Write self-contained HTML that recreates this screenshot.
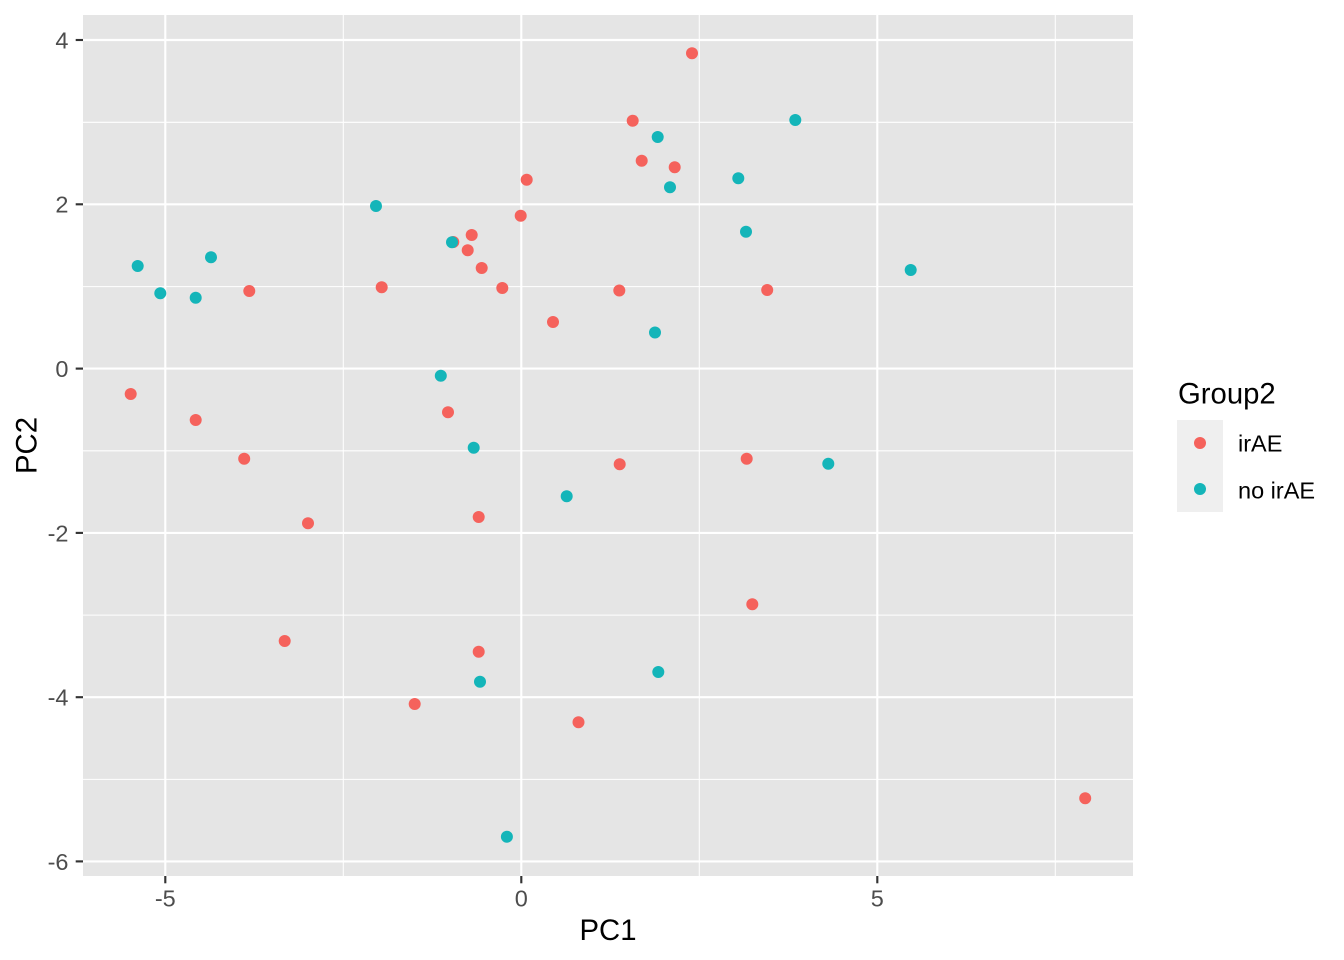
<!DOCTYPE html>
<html>
<head>
<meta charset="utf-8">
<style>
  html, body { margin: 0; padding: 0; background: #ffffff; }
  svg { display: block; }
  text { font-family: "Liberation Sans", Arial, sans-serif; }
</style>
</head>
<body>
<svg width="1344" height="960" viewBox="0 0 1344 960" xmlns="http://www.w3.org/2000/svg">
  <rect x="0" y="0" width="1344" height="960" fill="#ffffff"/>
  <!-- panel -->
  <rect x="83" y="15" width="1050" height="861" fill="#E5E5E5"/>
  <!-- minor gridlines -->
  <g stroke="#ffffff" stroke-width="1.07" fill="none">
    <line x1="343.3" y1="15" x2="343.3" y2="876"/>
    <line x1="699.3" y1="15" x2="699.3" y2="876"/>
    <line x1="1055.3" y1="15" x2="1055.3" y2="876"/>
    <line x1="83" y1="122.3" x2="1133" y2="122.3"/>
    <line x1="83" y1="286.6" x2="1133" y2="286.6"/>
    <line x1="83" y1="450.8" x2="1133" y2="450.8"/>
    <line x1="83" y1="615.1" x2="1133" y2="615.1"/>
    <line x1="83" y1="779.4" x2="1133" y2="779.4"/>
  </g>
  <!-- major gridlines -->
  <g stroke="#ffffff" stroke-width="2.13" fill="none">
    <line x1="165.3" y1="15" x2="165.3" y2="876"/>
    <line x1="521.3" y1="15" x2="521.3" y2="876"/>
    <line x1="877.3" y1="15" x2="877.3" y2="876"/>
    <line x1="83" y1="40" x2="1133" y2="40"/>
    <line x1="83" y1="204.3" x2="1133" y2="204.3"/>
    <line x1="83" y1="368.6" x2="1133" y2="368.6"/>
    <line x1="83" y1="532.9" x2="1133" y2="532.9"/>
    <line x1="83" y1="697.2" x2="1133" y2="697.2"/>
    <line x1="83" y1="861.4" x2="1133" y2="861.4"/>
  </g>
  <!-- points irAE -->
  <g fill="#F5625C">
    <circle cx="692" cy="53.3" r="6"/>
    <circle cx="632.7" cy="120.7" r="6"/>
    <circle cx="641.7" cy="160.7" r="6"/>
    <circle cx="674.7" cy="167.3" r="6"/>
    <circle cx="526.7" cy="179.7" r="6"/>
    <circle cx="520.7" cy="215.7" r="6"/>
    <circle cx="471.7" cy="235" r="6"/>
    <circle cx="453.3" cy="242" r="6"/>
    <circle cx="467.7" cy="250.3" r="6"/>
    <circle cx="481.7" cy="268" r="6"/>
    <circle cx="502.3" cy="288" r="6"/>
    <circle cx="619.3" cy="290.5" r="6"/>
    <circle cx="767.2" cy="290" r="6"/>
    <circle cx="553" cy="322" r="6"/>
    <circle cx="249.3" cy="291" r="6"/>
    <circle cx="381.7" cy="287.3" r="6"/>
    <circle cx="130.7" cy="394" r="6"/>
    <circle cx="195.7" cy="420" r="6"/>
    <circle cx="448" cy="412.2" r="6"/>
    <circle cx="244.2" cy="458.7" r="6"/>
    <circle cx="619.7" cy="464.3" r="6"/>
    <circle cx="746.7" cy="458.7" r="6"/>
    <circle cx="478.7" cy="517" r="6"/>
    <circle cx="308" cy="523.3" r="6"/>
    <circle cx="752.3" cy="604.3" r="6"/>
    <circle cx="284.7" cy="641" r="6"/>
    <circle cx="478.7" cy="651.7" r="6"/>
    <circle cx="414.7" cy="704" r="6"/>
    <circle cx="578.5" cy="722.3" r="6"/>
    <circle cx="1085.2" cy="798.3" r="6"/>
  </g>
  <!-- points no irAE -->
  <g fill="#14B5B9">
    <circle cx="657.7" cy="137" r="6"/>
    <circle cx="795.3" cy="120" r="6"/>
    <circle cx="670" cy="187.3" r="6"/>
    <circle cx="738.3" cy="178.3" r="6"/>
    <circle cx="746" cy="231.7" r="6"/>
    <circle cx="376" cy="206" r="6"/>
    <circle cx="452" cy="242.3" r="6"/>
    <circle cx="137.7" cy="266" r="6"/>
    <circle cx="211" cy="257.3" r="6"/>
    <circle cx="160.3" cy="293.3" r="6"/>
    <circle cx="195.7" cy="297.7" r="6"/>
    <circle cx="910.7" cy="270" r="6"/>
    <circle cx="655" cy="332.5" r="6"/>
    <circle cx="440.8" cy="375.7" r="6"/>
    <circle cx="473.7" cy="447.7" r="6"/>
    <circle cx="828.3" cy="463.7" r="6"/>
    <circle cx="566.7" cy="496.3" r="6"/>
    <circle cx="658.3" cy="672" r="6"/>
    <circle cx="480" cy="681.7" r="6"/>
    <circle cx="506.9" cy="836.7" r="6"/>
  </g>
  <!-- ticks -->
  <g stroke="#333333" stroke-width="2.13">
    <line x1="75.7" y1="40" x2="83" y2="40"/>
    <line x1="75.7" y1="204.3" x2="83" y2="204.3"/>
    <line x1="75.7" y1="368.6" x2="83" y2="368.6"/>
    <line x1="75.7" y1="532.9" x2="83" y2="532.9"/>
    <line x1="75.7" y1="697.2" x2="83" y2="697.2"/>
    <line x1="75.7" y1="861.4" x2="83" y2="861.4"/>
    <line x1="165.3" y1="876" x2="165.3" y2="883.3"/>
    <line x1="521.3" y1="876" x2="521.3" y2="883.3"/>
    <line x1="877.3" y1="876" x2="877.3" y2="883.3"/>
  </g>
  <!-- y tick labels -->
  <g fill="#4D4D4D" font-size="23.5" text-anchor="end">
    <text x="68.5" y="48.4">4</text>
    <text x="68.5" y="212.7">2</text>
    <text x="68.5" y="377">0</text>
    <text x="68.5" y="541.3">-2</text>
    <text x="68.5" y="705.6">-4</text>
    <text x="68.5" y="869.8">-6</text>
  </g>
  <!-- x tick labels -->
  <g fill="#4D4D4D" font-size="23.5" text-anchor="middle">
    <text x="165.3" y="906.7">-5</text>
    <text x="521.3" y="906.7">0</text>
    <text x="877.3" y="906.7">5</text>
  </g>
  <!-- axis titles -->
  <text x="608" y="940" font-size="29.3" text-anchor="middle" fill="#000000">PC1</text>
  <text x="0" y="0" font-size="29.3" text-anchor="middle" fill="#000000" transform="translate(36.5,445.5) rotate(-90)">PC2</text>
  <!-- legend -->
  <text x="1178" y="403.3" font-size="29.3" fill="#000000">Group2</text>
  <rect x="1177" y="420" width="46" height="92" fill="#EFEFEF"/>
  <circle cx="1200" cy="443" r="6" fill="#F5625C"/>
  <circle cx="1200" cy="489" r="6" fill="#14B5B9"/>
  <text x="1238" y="451.7" font-size="23.5" fill="#000000">irAE</text>
  <text x="1238" y="498.3" font-size="23.5" fill="#000000">no irAE</text>
</svg>
</body>
</html>
